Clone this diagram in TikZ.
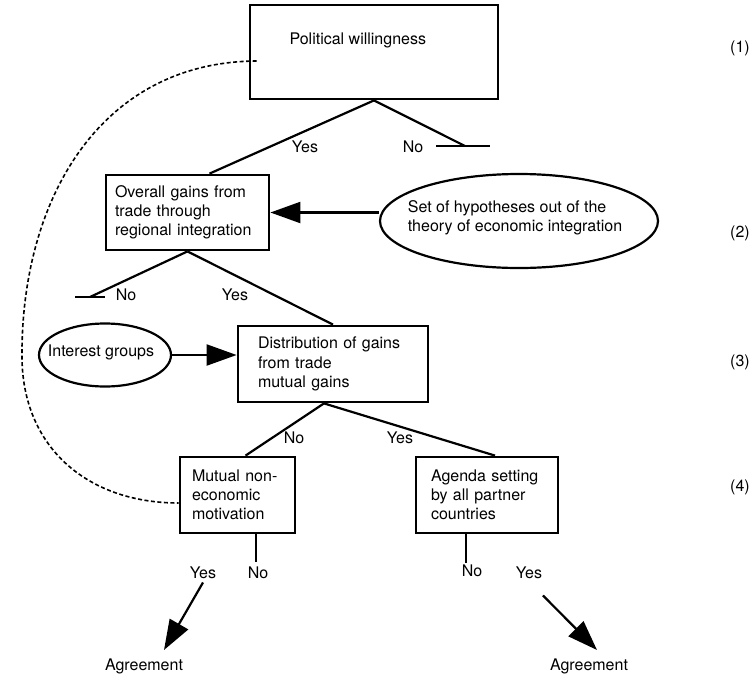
\documentclass[tikz,border=0pt]{standalone}
\usepackage{fontspec}
\setmainfont{TeX Gyre Heros}
\usetikzlibrary{arrows.meta,shapes.geometric}
\begin{document}
\begin{tikzpicture}[x=1pt,y=-1pt,font=\fontsize{16}{19.2}\selectfont,
    box/.style={draw,line width=2.8pt,align=left,inner ysep=0pt},
    oval/.style={draw,fill=white,ellipse,line width=2.2pt,inner sep=0pt},
    link/.style={line width=2.2pt},
    bigarrow/.style={line width=2.2pt,-{Triangle[length=30pt,width=21pt]}},
    loopback/.style={line width=1.6pt,dash pattern=on 4pt off 2.5pt}]
        \useasboundingbox (0,0) rectangle (756,681);
        \node[box,minimum width=248pt,minimum height=94pt] (will) at (374,52) {};
        \node[anchor=west] (willtext) at (286,40) {Political willingness};
        \node[box,minimum width=163pt,minimum height=75pt,text width=145pt,inner xsep=9pt] (gains) at (187.5,212.5) {Overall gains from\\trade through\\regional integration};
        \node[box,minimum width=190pt,minimum height=76pt,text width=150pt,inner xsep=20pt] (distr) at (333,364) {Distribution of gains\\from trade\\mutual gains};
        \node[box,minimum width=115pt,minimum height=76pt,text width=91pt,inner xsep=12pt] (motiv) at (237.5,495) {Mutual non-\\economic\\motivation};
        \node[box,minimum width=142pt,minimum height=76pt,text width=112pt,inner xsep=15pt] (agenda) at (487,495) {Agenda setting\\by all partner\\countries};
        \node[oval,minimum width=278pt,minimum height=94pt] (hyp) at (519,221) {};
        \node[align=left] (hyptext) at (515,218) {Set of hypotheses out of the\\theory of economic integration};
        \node[oval,minimum width=132pt,minimum height=63pt] (grp) at (105,355) {};
        \node (grptext) at (101,352) {Interest groups};

        \node (yes1) at (305,147) {Yes};
        \node (no1) at (413,147) {No};
        \node (no2) at (126,295) {No};
        \node (yes2) at (235,295) {Yes};
        \node (no3) at (294,438) {No};
        \node (yes3) at (400,438) {Yes};
        \node (yesL) at (203,573) {Yes};
        \node (noL) at (258,573) {No};
        \node (noR) at (472,571) {No};
        \node (yesR) at (529,573) {Yes};
        \node (agreeL) at (144,666) {Agreement};
        \node (agreeR) at (589,666) {Agreement};
        \node (lev1) at (740,48) {(1)};
        \node (lev2) at (740,233) {(2)};
        \node (lev3) at (740,362) {(3)};
        \node (lev4) at (740,487) {(4)};

        \coordinate (willno) at (465,146);
        \coordinate (gainsno) at (90,297);
        \coordinate (motivno) at (256,562);
        \coordinate (agendano) at (466,563);
        \coordinate (tipL) at (164,650);
        \coordinate (tipR) at (597,650);

        \draw[link] (will.south) -- ([xshift=22pt]gains.north);
        \draw[link] (will.south) -- (willno);
        \draw[link] ([xshift=-29pt]willno) -- ([xshift=25pt]willno);
        \draw[link] (gains.south) -- (gainsno);
        \draw[link] ([xshift=-15pt]gainsno) -- ([xshift=15pt]gainsno);
        \draw[link] (gains.south) -- (distr.north);
        \draw[link] ([xshift=-9pt]distr.south) -- ([xshift=8pt]motiv.north);
        \draw[link] ([xshift=-9pt]distr.south) -- ([xshift=8pt]agenda.north);
        \draw[link] (motivno |- motiv.south) -- (motivno);
        \draw[link] (agendano |- agenda.south) -- (agendano);

        \draw[bigarrow] (hyp.west |- gains.east) -- (gains.east);
        \draw[bigarrow] (grp.east) -- (grp.east -| distr.west);
        \draw[bigarrow] (yesL.south) -- (tipL);
        \draw[bigarrow] ([shift={(14pt,-13pt)}]yesR.south) -- (tipR);

        \draw[loopback] ([shift={(8pt,-9pt)}]will.west) .. controls (100,62) and (20,200) .. (22,360)
            .. controls (24,450) and (90,503) .. ([yshift=-8pt]motiv.west);
\end{tikzpicture}
\end{document}
